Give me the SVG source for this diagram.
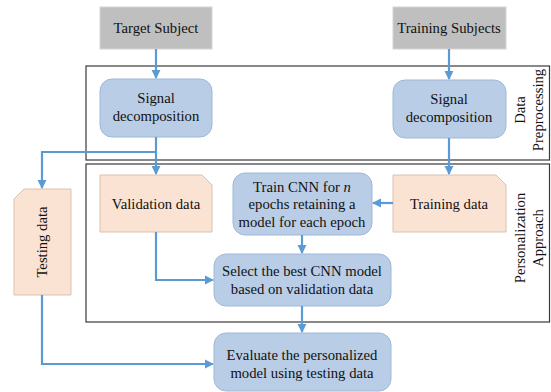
<svg xmlns="http://www.w3.org/2000/svg" width="551" height="392" viewBox="0 0 551 392" font-family="'Liberation Serif', 'DejaVu Serif', serif">
<style>
text{font-family:'Liberation Serif','DejaVu Serif',serif;font-size:14.7px;fill:#111;text-anchor:middle}
.src{fill:#bfbfbf;stroke:#d4d4d4;stroke-width:1}
.proc{fill:#b9cde6;stroke:#9fb8d8;stroke-width:1}
.data{fill:#fbe3d3;stroke:#dcc2ae;stroke-width:1}
.frame{fill:none;stroke:#3a3a3a;stroke-width:1.2}
.conn{fill:none;stroke:#5b9bd5;stroke-width:2.2}
</style>
<defs>
<marker id="ah" viewBox="0 0 10 10" refX="9" refY="5" markerWidth="4.2" markerHeight="4.2" orient="auto" markerUnits="strokeWidth">
<path d="M0,0 L10,5 L0,10 z" fill="#5b9bd5"/>
</marker>
</defs>
<g id="frames">
<rect class="frame" x="86" y="66" width="463.5" height="94"/>
<rect class="frame" x="86" y="164" width="463.5" height="158"/>
<text transform="translate(525,110) rotate(-90)">Data</text>
<text transform="translate(543,110) rotate(-90)">Preprocessing</text>
<text transform="translate(525,238) rotate(-90)">Personalization</text>
<text transform="translate(543,238) rotate(-90)">Approach</text>
</g>
<g id="target-subject">
<rect class="src" x="100" y="7" width="112" height="42"/>
<text x="156" y="33">Target Subject</text>
</g>
<g id="training-subjects">
<rect class="src" x="393" y="7" width="113" height="42"/>
<text x="449" y="33">Training Subjects</text>
</g>
<g id="signal-decomposition-1">
<rect class="proc" x="100" y="79" width="112" height="58" rx="12"/>
<text x="156" y="103">Signal</text>
<text x="156" y="121">decomposition</text>
</g>
<g id="signal-decomposition-2">
<rect class="proc" x="393" y="80" width="113" height="58" rx="12"/>
<text x="449" y="104">Signal</text>
<text x="449" y="122">decomposition</text>
</g>
<g id="validation-data">
<path class="data" d="M100,175 H202 L212,185 V232 H100 Z"/>
<text x="156" y="209">Validation data</text>
</g>
<g id="training-data">
<path class="data" d="M393,175 H496 L506,185 V232 H393 Z"/>
<text x="449" y="209">Training data</text>
</g>
<g id="testing-data">
<path class="data" d="M24,189 H71 V295 H14 V199 Z"/>
<text transform="translate(47,242) rotate(-90)">Testing data</text>
</g>
<g id="train-cnn">
<rect class="proc" x="233" y="173" width="139" height="62" rx="12"/>
<text x="302" y="192">Train CNN for <tspan font-style="italic">n</tspan></text>
<text x="302" y="209">epochs retaining a</text>
<text x="302" y="227">model for each epoch</text>
</g>
<g id="select-model">
<rect class="proc" x="214" y="254" width="177" height="52" rx="12"/>
<text x="302" y="276">Select the best CNN model</text>
<text x="302" y="294">based on validation data</text>
</g>
<g id="evaluate-model">
<rect class="proc" x="214" y="333" width="177" height="58" rx="12"/>
<text x="302" y="360">Evaluate the personalized</text>
<text x="302" y="378">model using testing data</text>
</g>
<g id="connectors">
<path class="conn" d="M156,49 V78" marker-end="url(#ah)"/>
<path class="conn" d="M449,49 V79" marker-end="url(#ah)"/>
<path class="conn" d="M156,137 V174" marker-end="url(#ah)"/>
<path class="conn" d="M156,152 H42 V188" marker-end="url(#ah)"/>
<path class="conn" d="M449,138 V174" marker-end="url(#ah)"/>
<path class="conn" d="M393,203 H373" marker-end="url(#ah)"/>
<path class="conn" d="M302,235 V253" marker-end="url(#ah)"/>
<path class="conn" d="M156,232 V280 H213" marker-end="url(#ah)"/>
<path class="conn" d="M302,306 V332" marker-end="url(#ah)"/>
<path class="conn" d="M42,295 V364 H213" marker-end="url(#ah)"/>
</g>
</svg>
